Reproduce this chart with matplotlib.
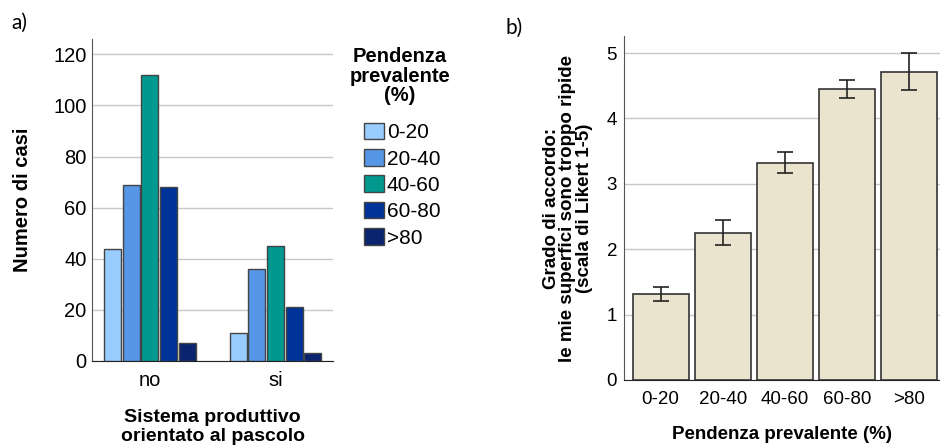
import numpy as np
import matplotlib.pyplot as plt

plt.rcParams['font.family'] = ['Liberation Sans', 'DejaVu Sans']

# panel a) counts
groups = ['no', 'si']
slope_classes = ['0-20', '20-40', '40-60', '60-80', '>80']
counts_no = [44, 69, 112, 68, 7]
counts_si = [11, 36, 45, 21, 3]
colors_a = ['#99CCFF', '#5596E6', '#00998F', '#003399', '#0B2470']

# panel b) mean agreement with error bars
mean_b = [1.32, 2.25, 3.32, 4.45, 4.71]
err_low = [1.21, 2.06, 3.16, 4.31, 4.43]
err_high = [1.43, 2.44, 3.48, 4.59, 5.00]

fig = plt.figure(figsize=(9.4, 4.46), dpi=100)

# ---- panel a
ax1 = fig.add_axes([0.0979, 0.1906, 0.2564, 0.722])
x = np.arange(len(groups))
width = 0.135
step = 0.148
for i, lab in enumerate(slope_classes):
    vals = [counts_no[i], counts_si[i]]
    ax1.bar(x + (i - 2) * step, vals, width, color=colors_a[i],
            edgecolor='#444444', linewidth=1.0, label=lab, zorder=3)
ax1.set_xlim(-0.46, 1.457)
ax1.set_ylim(0, 126)
ax1.set_yticks([0, 20, 40, 60, 80, 100, 120])
ax1.set_xticks(x)
ax1.set_xticklabels(groups)
ax1.yaxis.grid(True, color='#c8c8c8', linewidth=1.0, zorder=0)
ax1.tick_params(length=0, labelsize=14.5)
ax1.tick_params(axis='y', pad=4)
ax1.tick_params(axis='x', pad=7)
for s in ['top', 'right']:
    ax1.spines[s].set_visible(False)
ax1.spines['left'].set_color('#555555')
ax1.spines['bottom'].set_color('#222222')
ax1.set_ylabel('Numero di casi', fontsize=14.5, fontweight='bold', labelpad=15)
xl = ax1.set_xlabel('Sistema produttivo\norientato al pascolo', fontsize=14,
                    fontweight='bold', labelpad=14)
xl.set_linespacing(1.18)

leg = ax1.legend(loc='upper left', bbox_to_anchor=(0.3872, 0.725),
                 bbox_transform=fig.transFigure, frameon=False, fontsize=15,
                 handlelength=0.95, handleheight=0.85, handletextpad=0.15,
                 labelspacing=0.33, borderaxespad=0, borderpad=0)
for p in leg.get_patches():
    p.set_edgecolor('#444444')
fig.text(0.4255, 0.895, 'Pendenza\nprevalente\n(%)', ha='center', va='top',
         fontsize=14.5, fontweight='bold', linespacing=1.05,
         multialignment='center')

fig.text(0.012, 0.935, 'a)', fontsize=15, family=['Lato', 'DejaVu Sans'])

# ---- panel b
ax2 = fig.add_axes([0.6638, 0.148, 0.3362, 0.771])
xb = np.arange(len(slope_classes))
ax2.bar(xb, mean_b, 0.9, color='#EAE3CE', edgecolor='#333333',
        linewidth=1.2, zorder=3)
yerr = [np.array(mean_b) - np.array(err_low), np.array(err_high) - np.array(mean_b)]
ax2.errorbar(xb, mean_b, yerr=yerr, fmt='none', ecolor='#222222',
             elinewidth=1.2, capsize=6, capthick=1.2, zorder=4)
ax2.set_xlim(-0.59, 4.5)
ax2.set_ylim(0, 5.26)
ax2.set_yticks([0, 1, 2, 3, 4, 5])
ax2.set_xticks(xb)
ax2.set_xticklabels(slope_classes)
ax2.yaxis.grid(True, color='#c8c8c8', linewidth=1.0, zorder=0)
ax2.tick_params(length=0, labelsize=13.5)
ax2.tick_params(axis='y', pad=5)
ax2.tick_params(axis='x', pad=8)
for s in ['top', 'right']:
    ax2.spines[s].set_visible(False)
ax2.spines['left'].set_color('#555555')
ax2.spines['bottom'].set_color('#222222')
ax2.set_ylabel('Grado di accordo:\nle mie superfici sono troppo ripide\n(scala di Likert 1-5)',
               fontsize=13.5, fontweight='bold', labelpad=10, linespacing=0.95)
ax2.set_xlabel('Pendenza prevalente (%)', fontsize=13.5, fontweight='bold', labelpad=13)

fig.text(0.538, 0.925, 'b)', fontsize=15, family=['Lato', 'DejaVu Sans'])

fig.savefig('out.png', dpi=100)
